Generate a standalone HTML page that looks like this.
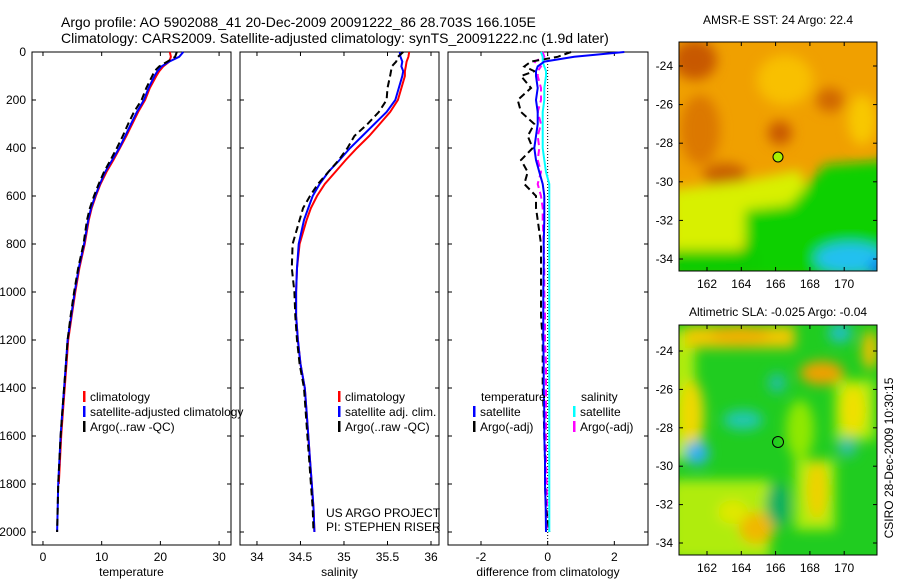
<!DOCTYPE html>
<html><head><meta charset="utf-8"><style>
html,body{margin:0;padding:0;background:#fff}
svg{display:block;font-family:"Liberation Sans",sans-serif}
</style></head><body>
<svg id="c" width="900" height="580" viewBox="0 0 900 580" xmlns="http://www.w3.org/2000/svg">
<defs>
<filter id="bl" x="-50%" y="-50%" width="200%" height="200%"><feGaussianBlur stdDeviation="6"/></filter>
<clipPath id="cm1"><rect x="679" y="42" width="198" height="229"/></clipPath>
<clipPath id="cm2"><rect x="679" y="325" width="198" height="230"/></clipPath>
</defs>
<text x="61" y="27" font-size="14">Argo profile: AO 5902088_41 20-Dec-2009 20091222_86 28.703S 166.105E</text>
<text x="61" y="43" font-size="14">Climatology: CARS2009. Satellite-adjusted climatology: synTS_20091222.nc (1.9d later)</text>

<g>
<g clip-path="url(#cm1)">
<rect x="679" y="42" width="198" height="229" fill="#f0a000"/>
<g filter="url(#bl)">
<ellipse cx="695" cy="60" rx="22" ry="20" fill="#c85800"/>
<ellipse cx="700" cy="130" rx="20" ry="35" fill="#dc7800"/>
<ellipse cx="725" cy="175" rx="22" ry="12" fill="#c86000"/>
<ellipse cx="780" cy="133" rx="12" ry="12" fill="#c85800"/>
<ellipse cx="830" cy="100" rx="14" ry="12" fill="#d06800"/>
<ellipse cx="785" cy="80" rx="28" ry="25" fill="#f8c000"/>
<ellipse cx="862" cy="120" rx="14" ry="25" fill="#f8c800"/>
<polygon points="670,190 740,182 800,170 810,200 760,215 740,250 670,250" fill="#d8f000"/>
<polygon points="745,210 790,205 825,165 890,160 890,280 745,280" fill="#10d000"/>
<rect x="670" y="250" width="90" height="30" fill="#10cc00"/>
<ellipse cx="850" cy="258" rx="35" ry="15" fill="#20c0f0"/>
<ellipse cx="878" cy="268" rx="8" ry="8" fill="#0060f0"/>
</g>
</g>
<rect x="679" y="42" width="198" height="229" fill="none" stroke="#000"/>
<circle cx="778" cy="157" r="5" fill="#a8f000" stroke="#000"/>
<text x="778" y="24" font-size="12" text-anchor="middle">AMSR-E SST: 24  Argo: 22.4</text>
</g>

<g>
<g clip-path="url(#cm2)">
<rect x="679" y="325" width="198" height="230" fill="#20cc20"/>
<g filter="url(#bl)">
<rect x="670" y="330" width="25" height="130" fill="#b0ec10"/>
<rect x="670" y="480" width="100" height="80" fill="#b0ec10"/>
<rect x="795" y="460" width="40" height="70" fill="#b0ec10"/>
<rect x="835" y="380" width="40" height="60" fill="#b0ec10"/>
<rect x="685" y="326" width="110" height="22" fill="#f0c800"/>
<ellipse cx="740" cy="335" rx="30" ry="10" fill="#f0b000"/>
<ellipse cx="822" cy="373" rx="22" ry="12" fill="#f0a000"/>
<ellipse cx="853" cy="410" rx="12" ry="25" fill="#f0e000"/>
<ellipse cx="692" cy="415" rx="12" ry="35" fill="#f0d800"/>
<ellipse cx="817" cy="490" rx="10" ry="30" fill="#f0d000"/>
<ellipse cx="757" cy="528" rx="18" ry="16" fill="#f0b800"/>
<ellipse cx="733" cy="512" rx="15" ry="12" fill="#e0e800"/>
<ellipse cx="870" cy="350" rx="8" ry="20" fill="#f0c000"/>
<ellipse cx="800" cy="430" rx="14" ry="30" fill="#90e800"/>
<ellipse cx="743" cy="420" rx="20" ry="10" fill="#20c8b0"/>
<ellipse cx="777" cy="383" rx="9" ry="10" fill="#20c0a0"/>
<ellipse cx="697" cy="453" rx="12" ry="12" fill="#30b0f0"/>
<ellipse cx="840" cy="333" rx="12" ry="10" fill="#20c0c0"/>
<ellipse cx="847" cy="447" rx="10" ry="10" fill="#30c0a0"/>
<ellipse cx="778" cy="505" rx="12" ry="22" fill="#10b060"/>
</g>
</g>
<rect x="679" y="325" width="198" height="230" fill="none" stroke="#000"/>
<circle cx="778" cy="442" r="5.5" fill="none" stroke="#000"/>
<text x="778" y="316" font-size="12" text-anchor="middle">Altimetric SLA: -0.025  Argo: -0.04</text>
</g>
<text transform="translate(893,458) rotate(-90)" font-size="12" text-anchor="middle">CSIRO 28-Dec-2009 10:30:15</text>
<text x="326" y="517" font-size="12">US ARGO PROJECT</text>
<text x="326" y="531" font-size="12">PI: STEPHEN RISER</text>
<g id="plots"></g>
</svg>
<script>
const depths=[0,20,40,60,80,100,150,200,250,300,350,400,450,500,550,600,650,700,800,900,1000,1100,1200,1300,1400,1500,1600,1700,1800,1900,2000];
const tempClim=[21.6,21.8,21.5,20.5,19.8,19.3,18.2,17.4,16.2,15.2,14.2,13.1,12,10.8,9.8,9,8.3,7.8,7.1,6.2,5.5,4.9,4.3,4.0,3.7,3.4,3.1,2.9,2.7];
const tempSat=[23.9,23.2,21.5,20.2,19.5,19.0,18.0,17.2,16,15,14,13,11.8,10.6,9.7,8.9,8.2,7.7,7,6.1,5.4,4.8,4.2,3.9,3.6,3.3,3.0,2.8,2.6,2.5,2.4];
const tempArgo=[22.8,22.5,21.2,19.8,19.0,18.6,17.6,16.8,15.5,14.5,13.6,12.6,11.5,10.4,9.5,8.7,8.0,7.5,6.9,6.0,5.3,4.7,4.2,3.9,3.6,3.3,3.0,2.8,2.6,2.5,2.4];
const salClim=[35.75,35.74,35.72,35.71,35.70,35.70,35.66,35.62,35.53,35.41,35.29,35.15,35.02,34.90,34.78,34.69,34.62,34.57,34.49,34.46,34.45,34.45,34.47,34.50,34.55,34.57,34.59,34.61,34.63,34.65,34.66];
const salSat=[35.64,35.65,35.67,35.66,35.68,35.67,35.63,35.59,35.49,35.35,35.21,35.07,34.95,34.82,34.72,34.64,34.59,34.54,34.48,34.46,34.45,34.45,34.47,34.50,34.55,34.57,34.59,34.61,34.63,34.65,34.66];
const salArgo=[35.68,35.62,35.60,35.55,35.54,35.53,35.50,35.49,35.40,35.27,35.12,35.04,34.94,34.82,34.70,34.61,34.53,34.49,34.41,34.40,34.43,34.44,34.46,34.49,34.54,34.56,34.58,34.60,34.62,34.64,34.65];
const dTsat=[2.3,0.8,-0.1,-0.3,-0.35,-0.35,-0.3,-0.35,-0.3,-0.3,-0.35,-0.4,-0.35,-0.25,-0.15,-0.1,-0.1,-0.1,-0.12,-0.12,-0.13,-0.13,-0.13,-0.12,-0.12,-0.1,-0.1,-0.08,-0.08,-0.06,-0.05];
const dTargo=[0.7,0.3,-0.5,-0.7,-0.4,-0.8,-0.5,-0.9,-0.8,-0.4,-0.6,-0.45,-0.8,-0.6,-0.7,-0.35,-0.35,-0.3,-0.2,-0.2,-0.2,-0.2,-0.15,-0.15,-0.15,-0.12,-0.1,-0.08,-0.08,-0.05,0.05];
const dSsat=[-0.2,-0.15,-0.15,-0.1,-0.05,-0.05,-0.1,-0.1,-0.15,-0.15,-0.15,-0.15,-0.1,-0.05,0.05,0.05,0.05,0.05,0.05,0.05,0.05,0.05,0.05,0.05,0.05,0.05,0.05,0.05,0.05,0.05,0.05];
const dSargo=[-0.15,-0.1,-0.4,-0.2,-0.3,-0.3,-0.2,-0.2,-0.3,-0.2,-0.3,-0.25,-0.3,-0.2,-0.3,-0.2,-0.15,-0.15,-0.12,-0.1,-0.1,-0.08,-0.08,-0.05,-0.05,-0.05,-0.05,-0.05,-0.03,-0.02,0];
const depthTicks=[0,200,400,600,800,1000,1200,1400,1600,1800,2000];
const tempTicks=[0,10,20,30];
const salTicks=[34,34.5,35,35.5,36];
const diffTicks=[-2,0,2];
const lonTicks=[162,164,166,168,170];
const latTicks=[-24,-26,-28,-30,-32,-34];

const NS='http://www.w3.org/2000/svg';
const g=document.getElementById('plots');
function el(t,a,p){const e=document.createElementNS(NS,t);for(const k in a)e.setAttribute(k,a[k]);(p||g).appendChild(e);return e;}
const Y=d=>52+d*0.24;
function panel(x0,x1,v0,v1,ticks,label,name,yl){
  const X=v=>x0+(v-v0)/(v1-v0)*(x1-x0);
  const r=el('rect',{x:x0,y:52,width:x1-x0,height:493,fill:'none',stroke:'#000'});
  
  
  ticks.forEach(t=>{const x=X(t);
    el('line',{x1:x,x2:x,y1:545,y2:541,stroke:'#000'});el('line',{x1:x,x2:x,y1:52,y2:56,stroke:'#000'});
    const tx=el('text',{x:x,y:561,'font-size':12,'text-anchor':'middle'});tx.textContent=String(t);
    
    });
  depthTicks.forEach(d=>{const y=Y(d);
    el('line',{x1:x0,x2:x0+4,y1:y,y2:y,stroke:'#000'});el('line',{x1:x1,x2:x1-4,y1:y,y2:y,stroke:'#000'});
    if(yl){const tx=el('text',{x:26,y:y+4,'font-size':12,'text-anchor':'end'});tx.textContent=String(d);
    
    }});
  const lb=el('text',{x:(x0+x1)/2,y:576,'font-size':12,'text-anchor':'middle'});lb.textContent=label;
  
  
  return X;
}
function line(X,vals,col,dash,name){
  const pts=vals.map((v,i)=>X(v).toFixed(1)+','+Y(depths[i]).toFixed(1)).join(' ');
  const p=el('polyline',{points:pts,fill:'none',stroke:col,'stroke-width':2});
  if(dash)p.setAttribute('stroke-dasharray','7,4');
  
  
}
function legend(x,y,col,txt,name){
  el('rect',{x:x,y:y-10,width:2.5,height:11,fill:col});
  const t=el('text',{x:x+7,y:y,'font-size':12});t.textContent=txt;
  
  
}
const Xt=panel(32,231,-1.87,32.03,tempTicks,'temperature','temperature-panel',true);
line(Xt,tempClim,'#f00',false,'temp-climatology-line');
line(Xt,tempSat,'#00f',false,'temp-satellite-line');
line(Xt,tempArgo,'#000',true,'temp-argo-line');
legend(83,401,'#f00','climatology','legend-climatology');
legend(83,416,'#00f','satellite-adjusted climatology','legend-satellite');
legend(83,431,'#000','Argo(..raw -QC)','legend-argo');
const Xs=panel(240,439,33.805,36.092,salTicks,'salinity','salinity-panel',false);
line(Xs,salClim,'#f00',false,'sal-climatology-line');
line(Xs,salSat,'#00f',false,'sal-satellite-line');
line(Xs,salArgo,'#000',true,'sal-argo-line');
legend(338,401,'#f00','climatology','legend-sal-climatology');
legend(338,416,'#00f','satellite adj. clim.','legend-sal-satellite');
legend(338,431,'#000','Argo(..raw -QC)','legend-sal-argo');
const Xd=panel(448,648,-2.99,3.01,diffTicks,'difference from climatology','difference-panel',false);
el('line',{x1:Xd(0),x2:Xd(0),y1:52,y2:545,stroke:'#000','stroke-dasharray':'1,2'});
line(Xd,dSargo,'#f0f',true,'dsal-argo-line');
line(Xd,dTargo,'#000',true,'dtemp-argo-line');
line(Xd,dSsat,'#0ff',false,'dsal-satellite-line');
line(Xd,dTsat,'#00f',false,'dtemp-satellite-line');
const h1=el('text',{x:481,y:401,'font-size':12});h1.textContent='temperature';


const h2=el('text',{x:581,y:401,'font-size':12});h2.textContent='salinity';


legend(473,416,'#00f','satellite','legend-dtemp-satellite');
legend(473,431,'#000','Argo(-adj)','legend-dtemp-argo');
legend(573,416,'#0ff','satellite','legend-dsal-satellite');
legend(573,431,'#f0f','Argo(-adj)','legend-dsal-argo');
function mapAxes(y0,y1,latY,name){
  const LX=v=>707+(v-162)*17.15;
  lonTicks.forEach(v=>{const x=LX(v);
    el('line',{x1:x,x2:x,y1:y1,y2:y1-4,stroke:'#000'});el('line',{x1:x,x2:x,y1:y0,y2:y0+4,stroke:'#000'});
    const t=el('text',{x:x,y:y1+17,'font-size':12,'text-anchor':'middle'});t.textContent=String(v);
    
    });
  latTicks.forEach(v=>{const y=latY(v);
    el('line',{x1:679,x2:683,y1:y,y2:y,stroke:'#000'});el('line',{x1:877,x2:873,y1:y,y2:y,stroke:'#000'});
    const t=el('text',{x:673,y:y+4,'font-size':12,'text-anchor':'end'});t.textContent=String(v);
    
    });
}
mapAxes(42,271,v=>66+(-24-v)*19.3,'sst-map');
mapAxes(325,555,v=>351+(-24-v)*19.2,'sla-map');
</script>
</body></html>
